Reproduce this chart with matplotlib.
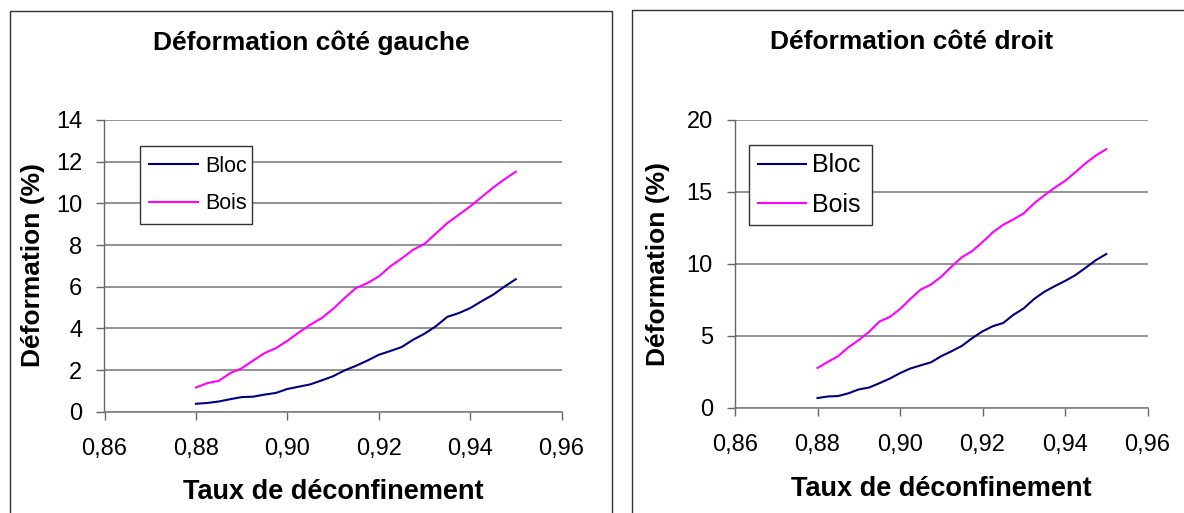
import matplotlib
matplotlib.use("Agg")
import matplotlib.pyplot as plt
from matplotlib.patches import Rectangle
from matplotlib.ticker import FuncFormatter

plt.rcParams['font.family'] = ['Liberation Sans', 'DejaVu Sans']

# ---- data ----
taux = [0.8800, 0.8825, 0.8850, 0.8875, 0.8900, 0.8925, 0.8950, 0.8975,
        0.9000, 0.9025, 0.9050, 0.9075, 0.9100, 0.9125, 0.9150, 0.9175,
        0.9200, 0.9225, 0.9250, 0.9275, 0.9300, 0.9325, 0.9350, 0.9375,
        0.9400, 0.9425, 0.9450, 0.9475, 0.9500]

gauche_bloc = [0.38, 0.42, 0.49, 0.60, 0.70, 0.72, 0.82, 0.90,
               1.09, 1.20, 1.31, 1.50, 1.70, 1.98, 2.20, 2.45,
               2.73, 2.91, 3.10, 3.45, 3.74, 4.10, 4.55, 4.73,
               4.97, 5.30, 5.61, 6.00, 6.36]
gauche_bois = [1.16, 1.37, 1.48, 1.85, 2.08, 2.45, 2.81, 3.05,
               3.40, 3.80, 4.17, 4.49, 4.93, 5.45, 5.93, 6.17,
               6.49, 6.97, 7.35, 7.77, 8.05, 8.55, 9.05, 9.45,
               9.85, 10.30, 10.75, 11.15, 11.52]

droit_bloc = [0.67, 0.78, 0.81, 1.00, 1.27, 1.40, 1.70, 2.02,
              2.40, 2.72, 2.94, 3.15, 3.58, 3.92, 4.29, 4.83,
              5.30, 5.66, 5.88, 6.45, 6.90, 7.55, 8.05, 8.44,
              8.80, 9.20, 9.72, 10.25, 10.67]
droit_bois = [2.76, 3.18, 3.58, 4.20, 4.70, 5.27, 5.98, 6.30,
              6.85, 7.55, 8.20, 8.55, 9.10, 9.80, 10.45, 10.88,
              11.50, 12.18, 12.70, 13.08, 13.50, 14.19, 14.75, 15.28,
              15.75, 16.35, 16.98, 17.52, 17.95]

x_ticks = [0.86, 0.88, 0.90, 0.92, 0.94, 0.96]
y_ticks_gauche = [0, 2, 4, 6, 8, 10, 12, 14]
y_ticks_droit = [0, 5, 10, 15, 20]

titles = ["Déformation côté gauche", "Déformation côté droit"]
xlabel = "Taux de déconfinement"
ylabel = "Déformation (%)"
series_names = ["Bloc", "Bois"]
colors = ["#000080", "#FF00FF"]

W, H = 1184, 513
fig = plt.figure(figsize=(W / 100, H / 100), dpi=100)

def fx(px):
    return px / W

def fy(py):
    return 1 - py / H

# panel frames
fig.patches.append(Rectangle((fx(9.7), fy(530)), fx(612) - fx(9.7), fy(11) - fy(530),
                             transform=fig.transFigure, fill=False,
                             edgecolor='#333333', linewidth=1.0))
fig.patches.append(Rectangle((fx(632.4), fy(530)), fx(1200) - fx(632.4), fy(10) - fy(530),
                             transform=fig.transFigure, fill=False,
                             edgecolor='#333333', linewidth=1.0))

panels = [
    dict(ax_px=(104.5, 120, 561.5, 411.7), ylim=(0, 14), yticks=y_ticks_gauche,
         data=(gauche_bloc, gauche_bois), title=titles[0], title_xy=(311.6, 43),
         xlabel_xy=(333.3, 492), ylabel_xy=(33, 265),
         legend_px=(140, 146, 252, 224),
         leg=dict(fontsize=15.5, handlelength=2.25, handletextpad=0.33,
                  labelspacing=0.77, borderpad=0.43)),
    dict(ax_px=(735, 119.7, 1147.5, 407.7), ylim=(0, 20), yticks=y_ticks_droit,
         data=(droit_bloc, droit_bois), title=titles[1], title_xy=(912, 42),
         xlabel_xy=(941.3, 489), ylabel_xy=(658, 264),
         legend_px=(749, 144, 872, 226),
         leg=dict(fontsize=18, handlelength=1.92, handletextpad=0.24,
                  labelspacing=0.6, borderpad=0.34)),
]

fmt = FuncFormatter(lambda v, p: f"{v:.2f}".replace(".", ","))

for p in panels:
    x0, y0, x1, y1 = p['ax_px']
    ax = fig.add_axes([fx(x0), fy(y1), fx(x1) - fx(x0), fy(y0) - fy(y1)])
    for vals, name, c in zip(p['data'], series_names, colors):
        ax.plot(taux, vals, color=c, linewidth=1.5, label=name, clip_on=False)
    ax.set_xlim(0.86, 0.96)
    ax.set_ylim(*p['ylim'])
    ax.set_xticks(x_ticks)
    ax.set_yticks(p['yticks'])
    ax.xaxis.set_major_formatter(fmt)
    ax.yaxis.grid(True, color='#808080', linewidth=1.2)
    ax.set_axisbelow(True)
    for s in ['top', 'right']:
        ax.spines[s].set_visible(False)
    ax.spines['left'].set_color('#666666')
    ax.spines['bottom'].set_color('#808080')
    ax.spines['left'].set_linewidth(1.0)
    ax.spines['bottom'].set_linewidth(1.2)
    ax.tick_params(axis='both', direction='out', length=6, width=1.0,
                   color='#666666', labelsize=17)
    ax.tick_params(axis='x', pad=13)
    ax.tick_params(axis='y', pad=10)
    ax.patch.set_alpha(0)

    lx0, ly0, lx1, ly1 = p['legend_px']
    leg = ax.legend(loc='center',
                    bbox_to_anchor=(fx(lx0), fy(ly1), fx(lx1) - fx(lx0), fy(ly0) - fy(ly1)),
                    bbox_transform=fig.transFigure, mode='expand',
                    frameon=True, fancybox=False, borderaxespad=0, **p['leg'])
    leg.get_frame().set_edgecolor('#333333')
    leg.get_frame().set_linewidth(1.0)
    leg.get_frame().set_facecolor('white')
    leg.get_frame().set_alpha(1)

    fig.text(fx(p['title_xy'][0]), fy(p['title_xy'][1]), p['title'], ha='center', va='center',
             fontsize=19, fontweight='bold')
    fig.text(fx(p['xlabel_xy'][0]), fy(p['xlabel_xy'][1]), xlabel, ha='center', va='center',
             fontsize=19.5, fontweight='bold')
    fig.text(fx(p['ylabel_xy'][0]), fy(p['ylabel_xy'][1]), ylabel, ha='center', va='center',
             fontsize=19, fontweight='bold', rotation=90)

fig.savefig("out.png", dpi=100)
